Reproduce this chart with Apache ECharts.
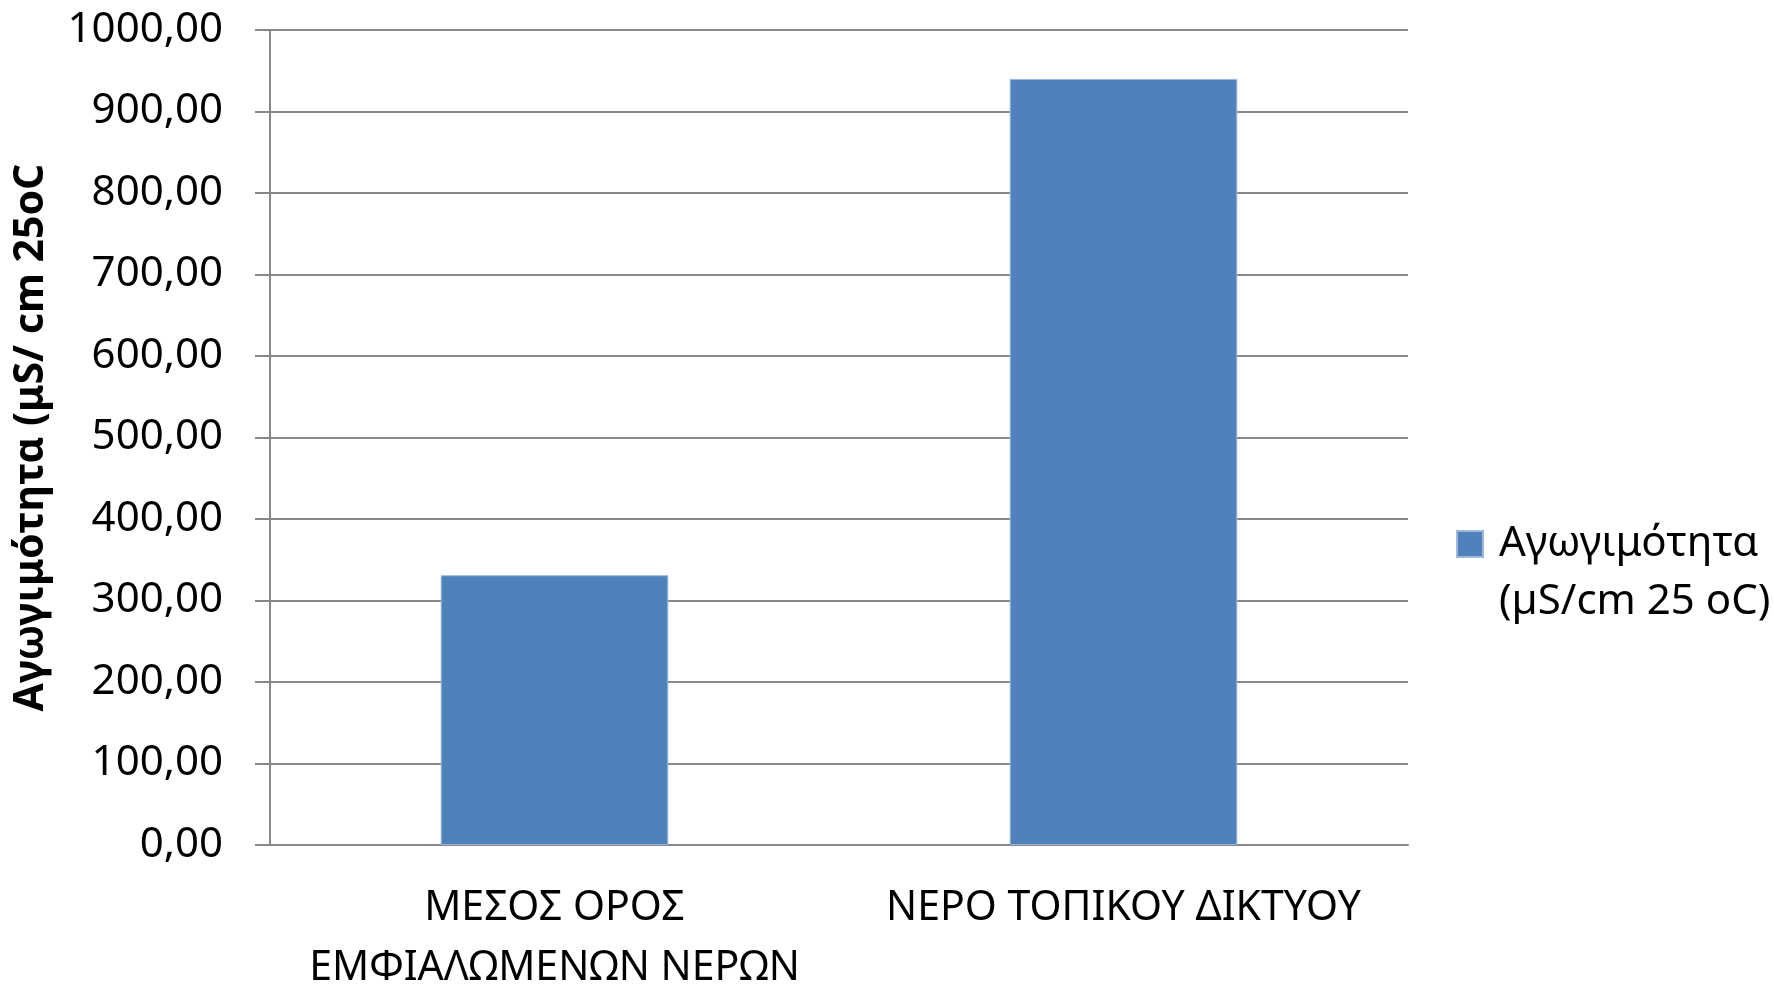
<!DOCTYPE html>
<html>
<head>
<meta charset="utf-8">
<script src="https://cdn.jsdelivr.net/npm/echarts@6/dist/echarts.min.js"></script>
<style>
  html, body { margin: 0; padding: 0; background: #fff; }
  #chart { width: 1774px; height: 984px; }
</style>
</head>
<body>
<div id="chart"></div>
<script>
// data
var categories = ['ΜΕΣΟΣ ΟΡΟΣ\nΕΜΦΙΑΛΩΜΕΝΩΝ ΝΕΡΩΝ', 'ΝΕΡΟ ΤΟΠΙΚΟΥ ΔΙΚΤΥΟΥ'];
var conductivity = [331, 940];
var seriesName = 'Αγωγιμότητα\n(µS/cm 25 oC)';
var yTitle = 'Αγωγιμότητα (μS/ cm 25oC';

var font = '"Noto Sans", "DejaVu Sans", sans-serif';
var gridColor = '#888888';

var chart = echarts.init(document.getElementById('chart'));
var option = {
  backgroundColor: '#ffffff',
  animation: false,
  textStyle: { fontFamily: font, color: '#000' },
  grid: { left: 270, right: 366, top: 30, bottom: 139, outerBoundsMode: 'none' },
  legend: {
    orient: 'vertical',
    left: 1451,
    top: 452,
    icon: 'rect',
    itemWidth: 26,
    itemHeight: 26,
    data: [seriesName],
    // empty first line so the square sits beside the first text line
    formatter: function (name) { return '\n' + name; },
    textStyle: {
      fontFamily: font,
      fontSize: 42,
      lineHeight: 58,
      color: '#000',
      padding: [0, 0, 0, 11]
    }
  },
  xAxis: {
    type: 'category',
    data: categories,
    axisLine: { lineStyle: { color: gridColor, width: 2 } },
    axisTick: { show: false },
    axisLabel: {
      fontFamily: font,
      fontSize: 41,
      lineHeight: 60,
      color: '#000',
      margin: 33,
      interval: 0
    }
  },
  yAxis: {
    type: 'value',
    min: 0,
    max: 1000,
    interval: 100,
    name: yTitle,
    nameLocation: 'middle',
    nameGap: 218,
    nameTextStyle: { fontFamily: font, fontSize: 41, fontWeight: 'bold', color: '#000' },
    axisLine: { show: true, lineStyle: { color: gridColor, width: 2 } },
    axisTick: { show: true, length: 15, lineStyle: { color: gridColor, width: 2 } },
    splitLine: { lineStyle: { color: gridColor, width: 2 } },
    axisLabel: {
      fontFamily: font,
      fontSize: 42,
      color: '#000',
      margin: 47,
      formatter: function (v) { return v.toFixed(2).replace('.', ','); }
    }
  },
  series: [{
    name: seriesName,
    type: 'bar',
    data: conductivity,
    barWidth: '40%',
    itemStyle: { color: '#4F81BD', borderColor: '#9fb7d8', borderWidth: 1 }
  }]
};
chart.setOption(option);
</script>
</body>
</html>
